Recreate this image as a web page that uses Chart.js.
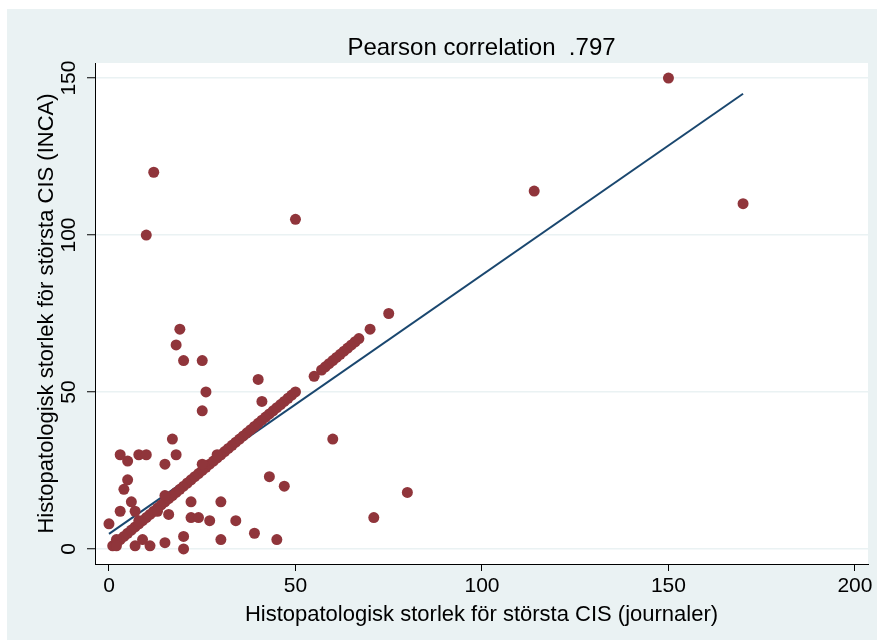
<!DOCTYPE html>
<html>
<head>
<meta charset="utf-8">
<script src="https://cdn.jsdelivr.net/npm/chart.js@4/dist/chart.umd.min.js"></script>
<style>
html,body{margin:0;padding:0;background:#fff;}
#wrap{width:877px;height:642px;position:relative;}
</style>
</head>
<body>
<div id="wrap"><canvas id="c" width="877" height="642"></canvas></div>
<script>
// Journal size (x) vs INCA size (y)
const xJournal = [
  1,2,3,4,5,6,7,8,9,10,11,12,13,14,15,16,17,18,19,20,21,22,23,24,25,26,27,28,29,30,
  31,32,33,34,35,36,37,38,39,40,41,42,43,44,45,46,47,48,49,50,55,57,58,59,60,61,62,63,64,65,66,67,70,75,114,150,
  2,15,25,29,13,8,
  0,3,7,6,4,5,5,3,8,10,15,17,18,16,22,30,22,24,27,34,39,45,30,20,20,15,11,7,9,2,
  25,26,20,25,18,19,40,41,43,47,60,71,80,10,12,50,170
];
const yInca = [
  1,2,3,4,5,6,7,8,9,10,11,12,13,14,15,16,17,18,19,20,21,22,23,24,25,26,27,28,29,30,
  31,32,33,34,35,36,37,38,39,40,41,42,43,44,45,46,47,48,49,50,55,57,58,59,60,61,62,63,64,65,66,67,70,75,114,150,
  3,17,27,30,12,9,
  8,12,12,15,19,22,28,30,30,30,27,35,30,11,15,15,10,10,9,9,5,3,3,4,0,2,1,1,3,1,
  44,50,60,60,65,70,54,47,23,20,35,10,18,100,120,105,110
];
// Fitted line endpoints
const fitX = [0, 170];
const fitY = [4.8, 145];
const xTicks = [0, 50, 100, 150, 200];
const yTicks = [0, 50, 100, 150];
const titleText = 'Pearson correlation  .797';
const xTitle = 'Histopatologisk storlek för största CIS (journaler)';
const yTitle = 'Histopatologisk storlek för största CIS (INCA)';

const BG = '#EAF2F3';
const MAROON = '#90353B';
const NAVY = '#1A476F';
const FONT = '"Liberation Sans", Arial, Helvetica, sans-serif';

const pts = xJournal.map((x, i) => ({x: x, y: yInca[i]}));
const fit = fitX.map((x, i) => ({x: x, y: fitY[i]}));

const bgPlugin = {
  id: 'bg',
  beforeDraw(chart) {
    const ctx = chart.ctx, a = chart.chartArea;
    ctx.save();
    ctx.fillStyle = '#fff';
    ctx.fillRect(0, 0, chart.width, chart.height);
    ctx.fillStyle = BG;
    ctx.fillRect(7, 9, 870, 631);
    ctx.fillStyle = '#fff';
    ctx.fillRect(a.left, a.top, a.right - a.left, a.bottom - a.top);
    ctx.restore();
  }
};

const textPlugin = {
  id: 'texts',
  afterDraw(chart) {
    const ctx = chart.ctx, a = chart.chartArea;
    const xs = chart.scales.x, ys = chart.scales.y;
    ctx.save();
    ctx.fillStyle = '#000';
    // title
    ctx.font = '24px ' + FONT;
    ctx.textAlign = 'center';
    ctx.textBaseline = 'alphabetic';
    ctx.fillText(titleText, (a.left + a.right) / 2, 55);
    // x tick labels
    ctx.font = '21px ' + FONT;
    xTicks.forEach(v => ctx.fillText(String(v), xs.getPixelForValue(v), 592));
    // x title
    ctx.font = '22px ' + FONT;
    ctx.fillText(xTitle, (a.left + a.right) / 2, 621);
    // y tick labels (rotated)
    ctx.font = '21px ' + FONT;
    yTicks.forEach(v => {
      ctx.save();
      ctx.translate(75, ys.getPixelForValue(v));
      ctx.rotate(-Math.PI / 2);
      ctx.fillText(String(v), 0, 0);
      ctx.restore();
    });
    // y title
    ctx.font = '22px ' + FONT;
    ctx.save();
    ctx.translate(53, (a.top + a.bottom) / 2);
    ctx.rotate(-Math.PI / 2);
    ctx.fillText(yTitle, 0, 0);
    ctx.restore();
    ctx.restore();
  }
};

new Chart(document.getElementById('c'), {
  type: 'scatter',
  data: {
    datasets: [
      {
        data: pts,
        pointRadius: 5.5,
        pointHoverRadius: 5.5,
        pointBackgroundColor: MAROON,
        pointBorderColor: MAROON,
        pointBorderWidth: 0,
        showLine: false
      },
      {
        type: 'line',
        data: fit,
        borderColor: NAVY,
        borderWidth: 2,
        pointRadius: 0,
        fill: false,
        tension: 0
      }
    ]
  },
  options: {
    responsive: false,
    animation: false,
    events: [],
    layout: { padding: { left: 0, top: 63, right: 9, bottom: 0 } },
    plugins: { legend: { display: false }, tooltip: { enabled: false }, title: { display: false } },
    scales: {
      x: {
        type: 'linear',
        min: -3.75,
        max: 203.5,
        afterFit(s) { s.height = 78; },
        afterBuildTicks(s) { s.ticks = xTicks.map(v => ({value: v})); },
        ticks: { display: false },
        grid: { drawOnChartArea: false, drawTicks: true, tickLength: 7, tickColor: '#000', tickWidth: 1 },
        border: { display: true, color: '#000', width: 1 }
      },
      y: {
        type: 'linear',
        min: -4.8,
        max: 154.8,
        afterFit(s) { s.width = 95; },
        afterBuildTicks(s) { s.ticks = yTicks.map(v => ({value: v})); },
        ticks: { display: false },
        grid: { drawOnChartArea: true, color: BG, lineWidth: 1.5, drawTicks: true, tickLength: 8, tickColor: '#000', tickWidth: 1 },
        border: { display: true, color: '#000', width: 1 }
      }
    }
  },
  plugins: [bgPlugin, textPlugin]
});
</script>
</body>
</html>
